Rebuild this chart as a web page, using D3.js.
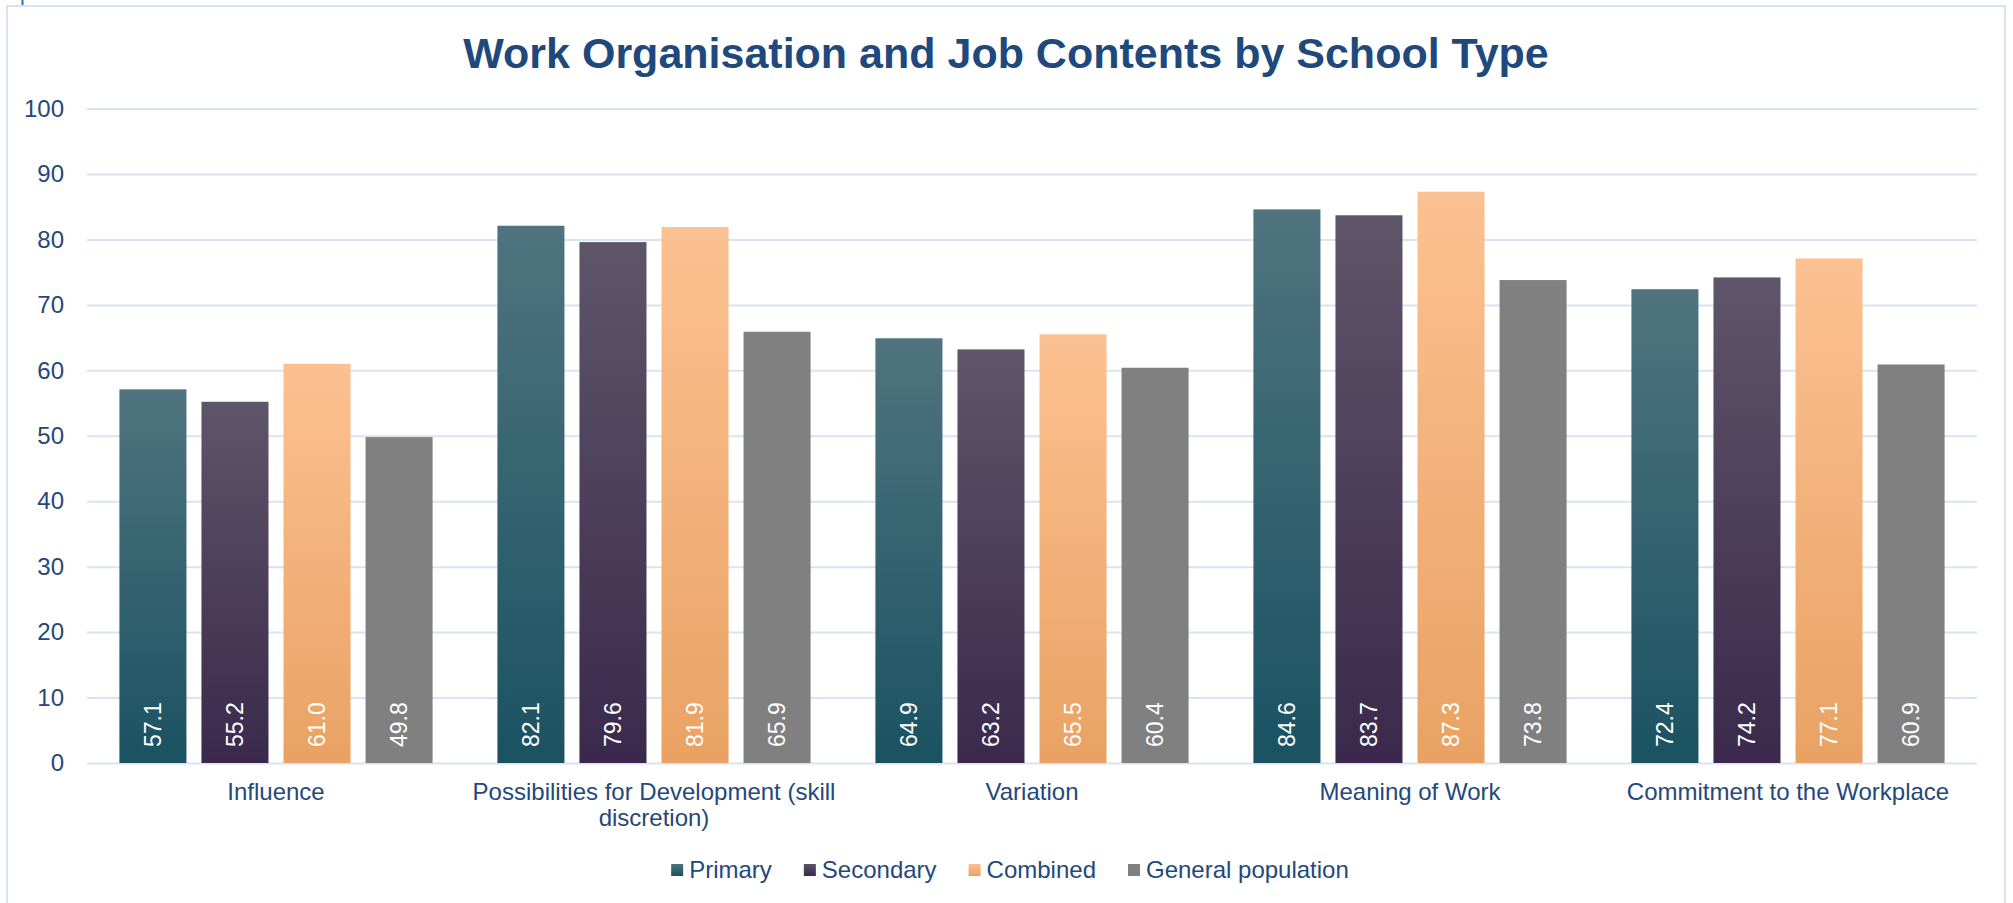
<!DOCTYPE html>
<html>
<head>
<meta charset="utf-8">
<script src="https://cdn.jsdelivr.net/npm/d3@7"></script>
<style>
  html, body { margin: 0; padding: 0; background: #ffffff; }
  svg { display: block; font-family: "Liberation Sans", Arial, sans-serif; }
</style>
</head>
<body>
<svg id="chart" width="2013" height="903"></svg>
<script>
// Scale scores per dimension, by school type
const categories = [
  "Influence",
  "Possibilities for Development (skill discretion)",
  "Variation",
  "Meaning of Work",
  "Commitment to the Workplace"
];
const seriesNames = ["Primary", "Secondary", "Combined", "General population"];
const primary    = [57.1, 82.1, 64.9, 84.6, 72.4];
const secondary  = [55.2, 79.6, 63.2, 83.7, 74.2];
const combined   = [61.0, 81.9, 65.5, 87.3, 77.1];
const generalPop = [49.8, 65.9, 60.4, 73.8, 60.9];
const yTicks = [0, 10, 20, 30, 40, 50, 60, 70, 80, 90, 100];

const seriesValues = [primary, secondary, combined, generalPop];

// gradient stops (top, bottom) for each series
const fills = [
  ["#4f747f", "#1a5262"],
  ["#5f5569", "#3a294c"],
  ["#fcc192", "#e9a263"],
  ["#808080", "#808080"]
];

const svg = d3.select("#chart");
const plot = { left: 87, right: 1977, top: 108.6, bottom: 763 };
const labelSize = 24;

const defs = svg.append("defs");
fills.forEach((f, i) => {
  const g = defs.append("linearGradient")
    .attr("id", "grad" + i)
    .attr("x1", 0).attr("y1", 0).attr("x2", 0).attr("y2", 1);
  g.append("stop").attr("offset", "0%").attr("stop-color", f[0]);
  g.append("stop").attr("offset", "100%").attr("stop-color", f[1]);
});

// outer frame
svg.append("rect")
  .attr("x", 7).attr("y", 6)
  .attr("width", 1998).attr("height", 920)
  .attr("fill", "none")
  .attr("stroke", "#d7e3f4")
  .attr("stroke-width", 2);
svg.append("line")
  .attr("x1", 22.5).attr("x2", 22.5).attr("y1", 0).attr("y2", 5)
  .attr("stroke", "#2e6fa8").attr("stroke-width", 2);

// title
svg.append("text")
  .attr("x", 1006).attr("y", 68)
  .attr("text-anchor", "middle")
  .attr("font-size", 43)
  .attr("font-weight", "bold")
  .attr("fill", "#1f497d")
  .text("Work Organisation and Job Contents by School Type");

const y = d3.scaleLinear().domain([0, 100]).range([plot.bottom, plot.top]);
const x0 = d3.scaleBand().domain(categories).range([plot.left, plot.right]).paddingInner(0).paddingOuter(0);
const x1 = d3.scaleBand().domain(seriesNames).range([0, x0.bandwidth()])
  .paddingInner(0.183).paddingOuter(0.395);

// gridlines + y labels via axis
const yAxis = d3.axisLeft(y).tickValues(yTicks).tickSize(-(plot.right - plot.left)).tickPadding(23);
const gy = svg.append("g").attr("transform", `translate(${plot.left},0)`).call(yAxis);
gy.select(".domain").remove();
gy.selectAll(".tick line").attr("stroke", "#d9e4f3").attr("stroke-width", 2);
gy.selectAll(".tick text")
  .attr("font-size", labelSize)
  .attr("fill", "#24487a")
  .attr("font-family", "'Liberation Sans', Arial, sans-serif");

// bars
const groups = svg.append("g").selectAll("g")
  .data(categories)
  .join("g")
  .attr("transform", d => `translate(${x0(d)},0)`);

groups.each(function(cat, ci) {
  const g = d3.select(this);
  seriesNames.forEach((s, si) => {
    const v = seriesValues[si][ci];
    g.append("rect")
      .attr("x", x1(s))
      .attr("y", y(v))
      .attr("width", x1.bandwidth())
      .attr("height", y(0) - y(v))
      .attr("fill", `url(#grad${si})`);
    const cx = x1(s) + x1.bandwidth() / 2;
    g.append("text")
      .attr("transform", `translate(${cx},${y(0) - 16}) rotate(-90)`)
      .attr("dy", "0.35em")
      .attr("text-anchor", "start")
      .attr("font-size", 23)
      .attr("fill", "#ffffff")
      .text(v.toFixed(1));
  });
});

// category labels, wrapped to the band width
const xAxis = d3.axisBottom(x0).tickSize(0).tickPadding(0);
const gx = svg.append("g").attr("transform", `translate(0,${plot.bottom})`).call(xAxis);
gx.select(".domain").remove();
gx.selectAll(".tick text")
  .attr("font-size", labelSize)
  .attr("fill", "#24487a")
  .attr("font-family", "'Liberation Sans', Arial, sans-serif")
  .attr("y", 37)
  .attr("dy", 0)
  .each(function(d) {
    const t = d3.select(this);
    const words = d.split(/\s+/);
    t.text(null);
    let line = [];
    let ln = 0;
    let tspan = t.append("tspan").attr("x", 0).attr("y", 37);
    words.forEach(w => {
      line.push(w);
      tspan.text(line.join(" "));
      if (tspan.node().getComputedTextLength() > 374 && line.length > 1) {
        line.pop();
        tspan.text(line.join(" "));
        line = [w];
        ln++;
        tspan = t.append("tspan").attr("x", 0).attr("y", 37 + ln * 26).text(w);
      }
    });
  });

// legend
const legend = svg.append("g");
let lx = 0;
seriesNames.forEach((s, i) => {
  const item = legend.append("g").attr("transform", `translate(${lx},0)`);
  item.append("rect")
    .attr("x", 0).attr("y", -6)
    .attr("width", 12).attr("height", 12)
    .attr("fill", `url(#grad${i})`);
  const t = item.append("text")
    .attr("x", 18).attr("dy", "0.35em")
    .attr("font-size", labelSize)
    .attr("fill", "#24487a")
    .text(s);
  lx += 18 + t.node().getComputedTextLength() + 32;
});
const legendWidth = lx - 32;
legend.attr("transform", `translate(${1010 - legendWidth / 2},870)`);
</script>
</body>
</html>
